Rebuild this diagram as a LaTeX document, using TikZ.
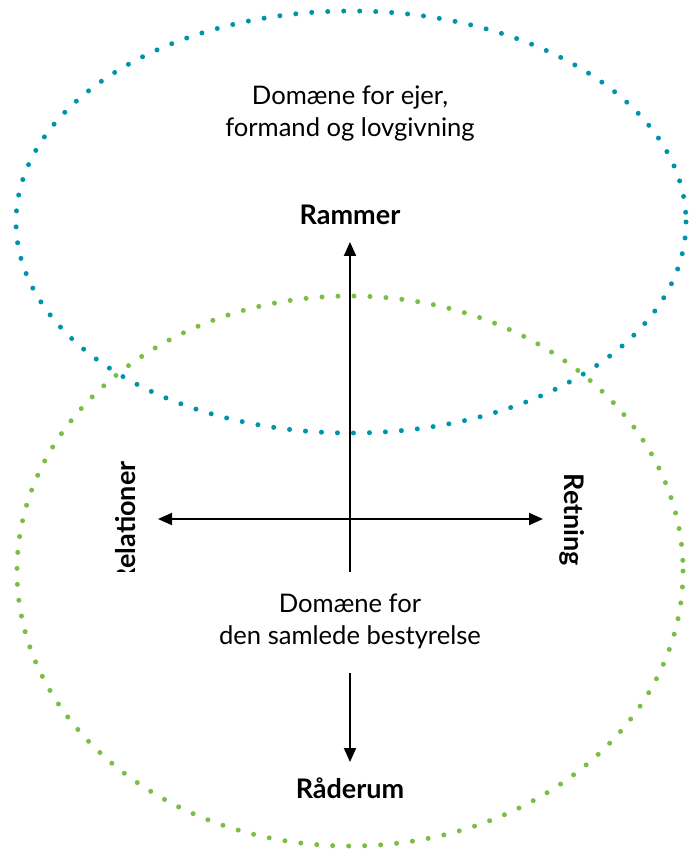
\documentclass[tikz,border=0pt]{standalone}
\usepackage{fontspec}
\setmainfont{Lato}
\usetikzlibrary{arrows.meta}
\definecolor{myteal}{RGB}{0,148,168}
\definecolor{mygreen}{RGB}{122,190,70}

\begin{document}
\begin{tikzpicture}[x=0.5pt,y=-0.5pt]
\tikzset{DomainStyle/.style ={line width=2.5pt, line cap=round, dash pattern=on 0pt off 8pt}}
\tikzset{AxisStyle/.style ={line width=1pt, -{Triangle[length=7pt,width=6pt]}}}
\tikzset{LabelStyle/.style ={font=\fontsize{13.5}{15}\selectfont\bfseries, inner sep=0}}
\tikzset{TextStyle/.style ={font=\fontsize{12.8}{16}\selectfont, align=center, inner sep=0}}
\useasboundingbox (0,0) rectangle (692,849);
\draw[DomainStyle, myteal] (351,222) ellipse [x radius=335, y radius=211];
\draw[DomainStyle, mygreen] (350,571) ellipse [x radius=333, y radius=275];
\node[TextStyle] (owner) at (350,114) {Domæne for ejer,\\formand og lovgivning};
\node[TextStyle] (board) at (350,621) {Domæne for\\den samlede bestyrelse};
\node[LabelStyle] (top) at (350,215) {Rammer};
\node[LabelStyle] (bottom) at (350,788) {Råderum};
\node[LabelStyle, rotate=-90] (right) at (572,520) {Retning};
\begin{scope}
\clip (0,0) rectangle (692,571);
\node[LabelStyle, rotate=90, anchor=east] (left) at (126,461) {Relationer};
\end{scope}
\coordinate (c1) at (350,572);
\coordinate (c2) at (350,673);
\coordinate (w) at (158,519);
\coordinate (e) at (543,519);
\draw[AxisStyle] (c1) -- (top.south |- 0,242);
\draw[AxisStyle] (c2) -- (bottom.north |- 0,762);
\draw[AxisStyle, {Triangle[length=7pt,width=6pt]}-{Triangle[length=7pt,width=6pt]}] (w) -- (e);
\end{tikzpicture}
\end{document}
